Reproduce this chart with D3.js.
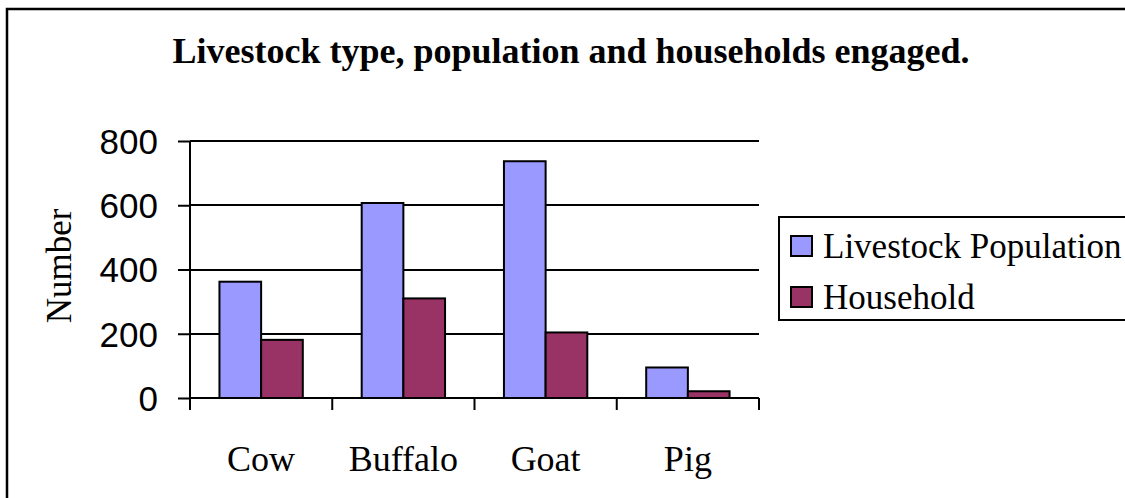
<!DOCTYPE html>
<html><head><meta charset="utf-8">
<script src="https://cdn.jsdelivr.net/npm/d3@7"></script>
<style>html,body{margin:0;padding:0;background:#fff;overflow:hidden}</style>
</head><body>
<script>
const categories = ["Cow", "Buffalo", "Goat", "Pig"];
const seriesNames = ["Livestock Population", "Household"];
const livestockPopulation = [362, 607, 737, 95];
const household = [181, 310, 204, 21];
const yTicks = [0, 200, 400, 600, 800];
const titleText = "Livestock type, population and households engaged.";
const yAxisTitle = "Number";

const colors = ["#9999FF", "#993366"];
const W = 1125, H = 498;
const svg = d3.select("body").append("svg").attr("width", W).attr("height", H);

// outer chart border
svg.append("rect").attr("x", 7).attr("y", 9).attr("width", W + 20).attr("height", H + 20)
  .attr("fill", "#fff").attr("stroke", "#000").attr("stroke-width", 2.5);

const plot = {left: 190, right: 759, top: 141, bottom: 398};
const y = d3.scaleLinear().domain([0, 800]).range([plot.bottom, plot.top]);
const x0 = d3.scaleBand().domain(categories).range([plot.left, plot.right]).padding(0);
const bw = x0.bandwidth();
const x1 = d3.scaleBand().domain(seriesNames).range([0.207 * bw, 0.793 * bw]).padding(0);

// gridlines
svg.append("g").selectAll("line").data(yTicks.filter(d => d > 0)).join("line")
  .attr("x1", plot.left).attr("x2", plot.right)
  .attr("y1", d => Math.round(y(d))).attr("y2", d => Math.round(y(d)))
  .attr("stroke", "#000").attr("stroke-width", 2);

// bars
const data = categories.map((c, i) => ({c, vals: [livestockPopulation[i], household[i]]}));
const grp = svg.append("g").selectAll("g").data(data).join("g")
  .attr("transform", d => `translate(${x0(d.c)},0)`);
grp.selectAll("rect").data(d => d.vals.map((v, j) => ({v, s: seriesNames[j], j}))).join("rect")
  .attr("x", d => x1(d.s)).attr("width", x1.bandwidth())
  .attr("y", d => y(d.v)).attr("height", d => y(0) - y(d.v))
  .attr("fill", d => colors[d.j]).attr("stroke", "#000").attr("stroke-width", 2);

// y axis
const yAxis = d3.axisLeft(y).tickValues(yTicks).tickSize(12).tickSizeOuter(0).tickPadding(20);
const gy = svg.append("g").attr("transform", `translate(${plot.left},0)`).call(yAxis);
gy.select(".domain").remove();
gy.selectAll(".tick line").attr("stroke", "#000").attr("stroke-width", 2);
gy.selectAll(".tick text").attr("font-family", "'Liberation Sans', Arial, sans-serif")
  .attr("font-size", 35).attr("fill", "#000").attr("dy", "0.35em");
svg.append("line").attr("x1", plot.left).attr("x2", plot.left)
  .attr("y1", plot.top).attr("y2", plot.bottom + 12).attr("stroke", "#000").attr("stroke-width", 2);

// x axis
const gx = svg.append("g").attr("transform", `translate(0,${plot.bottom})`);
gx.append("line").attr("x1", plot.left).attr("x2", plot.right).attr("stroke", "#000").attr("stroke-width", 2);
const bounds = categories.map(c => x0(c)).concat([x0(categories[categories.length - 1]) + bw]);
gx.selectAll("line.tk").data(bounds.slice(1)).join("line").attr("class", "tk")
  .attr("x1", d => d).attr("x2", d => d).attr("y1", 0).attr("y2", 12)
  .attr("stroke", "#000").attr("stroke-width", 2);
gx.selectAll("text").data(categories).join("text")
  .attr("x", d => x0(d) + bw / 2).attr("y", 73).attr("text-anchor", "middle")
  .attr("font-family", "'Liberation Serif', 'Times New Roman', serif").attr("font-size", 36)
  .text(d => d);

// title
svg.append("text").attr("x", 571).attr("y", 63).attr("text-anchor", "middle")
  .attr("font-family", "'Liberation Serif', 'Times New Roman', serif").attr("font-weight", "bold")
  .attr("font-size", 36).text(titleText);

// y axis title
svg.append("text").attr("transform", "translate(71,266) rotate(-90)").attr("text-anchor", "middle")
  .attr("font-family", "'Liberation Serif', 'Times New Roman', serif").attr("font-size", 35)
  .text(yAxisTitle);

// legend
const lg = svg.append("g");
lg.append("rect").attr("x", 779).attr("y", 217).attr("width", 400).attr("height", 103)
  .attr("fill", "#fff").attr("stroke", "#000").attr("stroke-width", 2);
const items = lg.selectAll("g").data(seriesNames).join("g")
  .attr("transform", (d, i) => `translate(791,${236 + i * 51})`);
items.append("rect").attr("width", 21).attr("height", 20)
  .attr("fill", (d, i) => colors[i]).attr("stroke", "#000").attr("stroke-width", 2);
items.append("text").attr("x", 32).attr("y", 22)
  .attr("font-family", "'Liberation Serif', 'Times New Roman', serif").attr("font-size", 35)
  .text(d => d);
</script>
</body></html>
